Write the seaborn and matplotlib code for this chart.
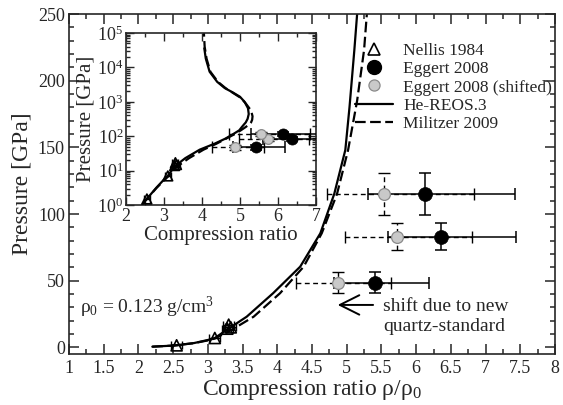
import numpy as np
import pandas as pd
import matplotlib
matplotlib.use("Agg")
import matplotlib.pyplot as plt
from matplotlib.lines import Line2D
from matplotlib.ticker import MultipleLocator, LogLocator, LogFormatterMathtext, NullFormatter
import seaborn as sns

# ---------------- data ----------------
nellis_x = [2.55, 3.10, 3.28, 3.30, 3.33]
nellis_p = [1.5, 7.0, 14.0, 17.0, 15.0]
nellis_xerr = [0.08, 0.08, 0.08, 0.08, 0.08]

eggert_x = [5.41, 6.36, 6.13]
eggert_p = [48.5, 83.0, 115.0]
eggert_perr = [8.0, 10.0, 16.0]
eggert_xerr_lo = [0.60, 0.76, 0.83]
eggert_xerr_hi = [0.77, 1.08, 1.30]
shifted_x = [4.87, 5.73, 5.54]

hereos_x = [2.2, 2.5, 2.8, 3.0, 3.1, 3.27, 3.56, 3.94, 4.33, 4.62, 4.82, 4.98, 5.04, 5.11,
            5.15, 5.20, 5.23, 5.21, 5.12, 5.0, 4.8, 4.6, 4.4, 4.2, 4.1, 4.06]
hereos_p = [0.5, 1.3, 3.2, 5.5, 7.0, 13.0, 23.0, 40.6, 60.5, 85.5, 115.0, 148.0, 180.0, 223.0,
            250.0, 320.0, 440.0, 650.0, 1000.0, 1400.0, 1900.0, 2500.0, 3800.0, 7500.0,
            18000.0, 36000.0]

militzer_x = [2.2, 2.5, 2.8, 3.0, 3.1, 3.34, 3.66, 4.04, 4.38, 4.64, 4.86, 5.02, 5.15, 5.25,
              5.29, 5.32, 5.33, 5.29, 5.15, 5.02, 4.82, 4.62, 4.42, 4.22, 4.12, 4.07, 4.05]
militzer_p = [0.5, 1.3, 3.1, 5.2, 6.6, 13.0, 23.0, 40.6, 60.5, 85.5, 115.0, 148.0, 185.0, 223.0,
              250.0, 300.0, 380.0, 560.0, 900.0, 1300.0, 1800.0, 2500.0, 3800.0, 7500.0,
              18000.0, 40000.0, 100000.0]

legend_labels = ["Nellis 1984", "Eggert 2008", "Eggert 2008 (shifted)", "He-REOS.3", "Militzer 2009"]

# ---------------- style ----------------
sns.set_theme(style="ticks")
plt.rcParams["font.family"] = ["Liberation Serif", "DejaVu Serif"]
plt.rcParams["mathtext.fontset"] = "custom"
plt.rcParams["mathtext.rm"] = "Liberation Serif"
plt.rcParams["mathtext.it"] = "Liberation Serif:italic"
plt.rcParams["mathtext.bf"] = "Liberation Serif:bold"
plt.rcParams["axes.linewidth"] = 1.2

GREY_FACE = "#c9c9c9"
GREY_EDGE = "#8a8a8a"
DASHES = (4.8, 2.0)

df_he = pd.DataFrame({"x": hereos_x, "p": hereos_p})
df_mi = pd.DataFrame({"x": militzer_x, "p": militzer_p})

fig = plt.figure(figsize=(5.63, 4.05), dpi=100)
ax = fig.add_axes([69 / 563, 51 / 405, 486 / 563, 340 / 405])
axin = fig.add_axes([126 / 563, 200 / 405, 190 / 563, 172 / 405])


def draw(a, inset=False):
    ms_tri = 7 if inset else 8
    ms_e = 8 if inset else 10
    ms_s = 7 if inset else 8.5
    # curves
    sns.lineplot(data=df_he, x="x", y="p", sort=False, estimator=None, ax=a,
                 color="black", lw=1.6, zorder=2)
    sns.lineplot(data=df_mi, x="x", y="p", sort=False, estimator=None, ax=a,
                 color="black", lw=1.6, dashes=False, zorder=2)
    a.lines[-1].set_dashes(DASHES)
    # shifted error bars (dashed)
    eb = a.errorbar(shifted_x, eggert_p, xerr=[eggert_xerr_lo, eggert_xerr_hi], yerr=eggert_perr,
                    fmt="none", ecolor="black", elinewidth=1.0, capsize=4 if inset else 4.5,
                    capthick=1.0, zorder=3)
    for lc in eb[2]:
        lc.set_linestyle((0, (3.5, 2.5)))
    # Eggert error bars (solid)
    a.errorbar(eggert_x, eggert_p, xerr=[eggert_xerr_lo, eggert_xerr_hi], yerr=eggert_perr,
               fmt="none", ecolor="black", elinewidth=1.1, capsize=4 if inset else 4.5,
               capthick=1.1, zorder=4)
    # Nellis error bars
    a.errorbar(nellis_x, nellis_p, xerr=nellis_xerr, fmt="none", ecolor="black",
               elinewidth=1.0, capsize=3, capthick=1.0, zorder=4)
    # markers
    sns.scatterplot(x=nellis_x, y=nellis_p, ax=a, marker="^", s=ms_tri ** 2,
                    facecolor="none", edgecolor="black", linewidth=1.2, zorder=5)
    sns.scatterplot(x=shifted_x, y=eggert_p, ax=a, marker="o", s=ms_s ** 2,
                    color=GREY_FACE, edgecolor=GREY_EDGE, linewidth=0.9, zorder=5)
    sns.scatterplot(x=eggert_x, y=eggert_p, ax=a, marker="o", s=ms_e ** 2,
                    color="black", edgecolor="black", linewidth=0.5, zorder=6)
    a.set_xlabel("")
    a.set_ylabel("")


draw(ax)
draw(axin, inset=True)

# main axes formatting
ax.set_xlim(1, 8)
ax.set_ylim(-5, 250)
ax.xaxis.set_major_locator(MultipleLocator(0.5))
ax.xaxis.set_minor_locator(MultipleLocator(0.25))
ax.yaxis.set_major_locator(MultipleLocator(50))
ax.yaxis.set_minor_locator(MultipleLocator(10))
ax.xaxis.set_major_formatter(matplotlib.ticker.FuncFormatter(lambda v, p: f"{v:g}"))
ax.tick_params(which="both", direction="in", top=True, right=True, width=1.1,
               labelsize=13)
ax.tick_params(axis="x", pad=4)
ax.tick_params(axis="y", pad=3)
ax.tick_params(which="major", length=7)
ax.tick_params(which="minor", length=3.5)
ax.set_xlabel("Compression ratio ρ/ρ$_0$", fontsize=17, labelpad=1)
ax.set_ylabel("Pressure [GPa]", fontsize=17, labelpad=4)

# inset formatting
axin.set_yscale("log")
axin.set_xlim(2, 7)
axin.set_ylim(1, 1e5)
axin.xaxis.set_major_locator(MultipleLocator(1))
axin.xaxis.set_minor_locator(MultipleLocator(0.5))
axin.yaxis.set_major_locator(LogLocator(base=10, numticks=10))
axin.yaxis.set_minor_locator(LogLocator(base=10, subs=np.arange(2, 10), numticks=50))
axin.yaxis.set_major_formatter(LogFormatterMathtext())
axin.yaxis.set_minor_formatter(NullFormatter())
axin.tick_params(which="both", direction="in", top=True, right=True, width=1.0,
                 labelsize=13, pad=2)
axin.tick_params(which="major", length=6)
axin.tick_params(which="minor", length=3)
axin.set_xlabel("Compression ratio", fontsize=15, labelpad=1)
axin.set_ylabel("Pressure [GPa]", fontsize=15, labelpad=1)
axin.set_facecolor("white")

# annotations
ax.text(1.16, 30, "ρ$_0$ = 0.123 g/cm$^3$", fontsize=14, va="center", ha="left")
ax.annotate("", xy=(4.83, 31.8), xytext=(5.42, 31.8),
            arrowprops=dict(arrowstyle="->,head_length=0.7,head_width=0.35", lw=1.4,
                            color="black", mutation_scale=20))
ax.text(5.52, 30.5, "shift due to new", fontsize=14, va="center", ha="left")
ax.text(5.52, 15.5, "quartz-standard", fontsize=14, va="center", ha="left")

# legend
handles = [
    Line2D([], [], ls="none", marker="^", ms=8, mfc="none", mec="black", mew=1.2),
    Line2D([], [], ls="none", marker="o", ms=10, mfc="black", mec="black"),
    Line2D([], [], ls="none", marker="o", ms=8, mfc=GREY_FACE, mec=GREY_EDGE, mew=0.9),
    Line2D([], [], color="black", lw=1.6),
    Line2D([], [], color="black", lw=1.6, dashes=DASHES),
]
ax.legend(handles, legend_labels, loc="upper left", bbox_to_anchor=(0.588, 0.915),
          frameon=False, fontsize=12.5, handlelength=2.2, handletextpad=0.6,
          labelspacing=0.12, borderpad=0, borderaxespad=0)

fig.savefig("out.png", dpi=100)
